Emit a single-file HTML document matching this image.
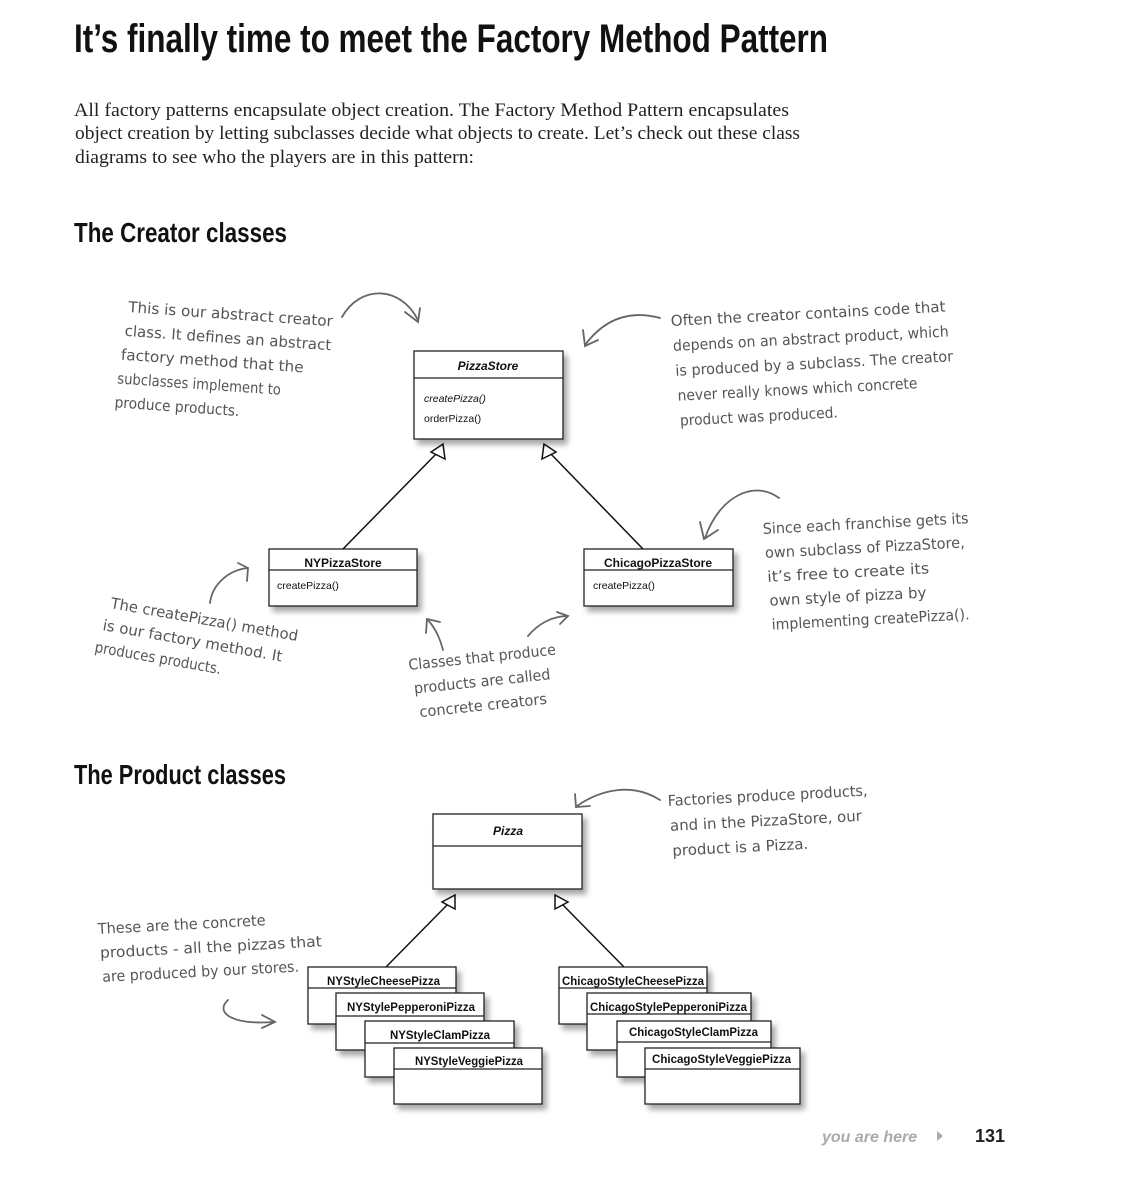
<!DOCTYPE html>
<html><head><meta charset="utf-8"><style>
html,body{margin:0;padding:0;background:#fff}
svg{display:block}
.h{font-family:"DejaVu Sans","Liberation Sans",sans-serif;fill:#555;font-size:15px}
.u{font-family:"Liberation Sans",sans-serif;fill:#111}
</style></head><body>
<svg width="1129" height="1194" viewBox="0 0 1129 1194" xmlns="http://www.w3.org/2000/svg">
<defs>
<filter id="sh" x="-10%" y="-10%" width="130%" height="140%"><feDropShadow dx="4" dy="5" stdDeviation="3" flood-color="#000" flood-opacity="0.35"/></filter>
</defs>
<text x="74" y="52" font-family="Liberation Sans,sans-serif" font-weight="bold" font-size="40" textLength="754" lengthAdjust="spacingAndGlyphs" fill="#111">It’s finally time to meet the Factory Method Pattern</text>
<g font-family="Liberation Serif,serif" font-size="18.5" fill="#222">
<text x="74" y="116" textLength="715" lengthAdjust="spacingAndGlyphs">All factory patterns encapsulate object creation.  The Factory Method Pattern encapsulates</text>
<text x="75" y="139" textLength="725" lengthAdjust="spacingAndGlyphs">object creation by letting subclasses decide what objects to create.  Let’s check out these class</text>
<text x="75" y="163" textLength="399" lengthAdjust="spacingAndGlyphs">diagrams to see who the players are in this pattern:</text>
</g>
<text x="74" y="242" font-family="Liberation Sans,sans-serif" font-weight="bold" font-size="28" textLength="213" lengthAdjust="spacingAndGlyphs" fill="#111">The Creator classes</text>
<text x="74" y="784" font-family="Liberation Sans,sans-serif" font-weight="bold" font-size="28" textLength="212" lengthAdjust="spacingAndGlyphs" fill="#111">The Product classes</text>

<g stroke="#111" stroke-width="1.5" fill="#fff">
<line x1="343" y1="549" x2="438" y2="452"/>
<line x1="643" y1="549" x2="549" y2="452"/>
<polygon points="443,444 445,459 431,452"/>
<polygon points="544,444 542,459 556,452"/>
<line x1="386" y1="967" x2="450" y2="902"/>
<line x1="624" y1="967" x2="560" y2="902"/>
<polygon points="455,895 455,909 442,902"/>
<polygon points="555,895 555,909 568,902"/>
</g>

<g stroke="#222" stroke-width="1.3" fill="#fff" filter="url(#sh)">
<rect x="414" y="351" width="149" height="88"/>
<rect x="269" y="549" width="148" height="57"/>
<rect x="584" y="549" width="149" height="57"/>
<rect x="433" y="814" width="149" height="75"/>
<rect x="308" y="967" width="148" height="57"/>
<rect x="336" y="993" width="148" height="57"/>
<rect x="365" y="1021" width="149" height="56"/>
<rect x="394" y="1048" width="148" height="56"/>
<rect x="559" y="967" width="148" height="57"/>
<rect x="587" y="993" width="164" height="57"/>
<rect x="617" y="1021" width="154" height="56"/>
<rect x="645" y="1048" width="155" height="56"/>
</g>
<g stroke="#222" stroke-width="1.2">
<line x1="414" y1="378" x2="563" y2="378"/>
<line x1="269" y1="570" x2="417" y2="570"/>
<line x1="584" y1="570" x2="733" y2="570"/>
<line x1="433" y1="846" x2="582" y2="846"/>
<line x1="308" y1="988" x2="456" y2="988"/>
<line x1="336" y1="1016" x2="484" y2="1016"/>
<line x1="365" y1="1043" x2="514" y2="1043"/>
<line x1="394" y1="1069" x2="542" y2="1069"/>
<line x1="559" y1="988" x2="707" y2="988"/>
<line x1="587" y1="1014" x2="751" y2="1014"/>
<line x1="617" y1="1042" x2="771" y2="1042"/>
<line x1="645" y1="1069" x2="800" y2="1069"/>
</g>
<g class="u" font-size="12">
<text x="488" y="370" text-anchor="middle" font-weight="bold" font-style="italic">PizzaStore</text>
<text x="424" y="402" font-size="10.5" font-style="italic">createPizza()</text>
<text x="424" y="422" font-size="10.5">orderPizza()</text>
<text x="343" y="567" text-anchor="middle" font-weight="bold">NYPizzaStore</text>
<text x="277" y="589" font-size="10.5">createPizza()</text>
<text x="658" y="567" text-anchor="middle" font-weight="bold">ChicagoPizzaStore</text>
<text x="593" y="589" font-size="10.5">createPizza()</text>
<text x="508" y="835" text-anchor="middle" font-weight="bold" font-style="italic">Pizza</text>
<text x="327" y="985" font-weight="bold" textLength="113" lengthAdjust="spacingAndGlyphs">NYStyleCheesePizza</text>
<text x="347" y="1011" font-weight="bold" textLength="128" lengthAdjust="spacingAndGlyphs">NYStylePepperoniPizza</text>
<text x="390" y="1039" font-weight="bold" textLength="100" lengthAdjust="spacingAndGlyphs">NYStyleClamPizza</text>
<text x="415" y="1065" font-weight="bold" textLength="108" lengthAdjust="spacingAndGlyphs">NYStyleVeggiePizza</text>
<text x="562" y="985" font-weight="bold" textLength="142" lengthAdjust="spacingAndGlyphs">ChicagoStyleCheesePizza</text>
<text x="590" y="1011" font-weight="bold" textLength="157" lengthAdjust="spacingAndGlyphs">ChicagoStylePepperoniPizza</text>
<text x="629" y="1036" font-weight="bold" textLength="129" lengthAdjust="spacingAndGlyphs">ChicagoStyleClamPizza</text>
<text x="652" y="1063" font-weight="bold" textLength="139" lengthAdjust="spacingAndGlyphs">ChicagoStyleVeggiePizza</text>
</g>

<g class="h">
<g transform="rotate(4 128 312)">
<text x="128" y="312" textLength="205" lengthAdjust="spacingAndGlyphs">This is our abstract creator</text>
<text x="126" y="336" textLength="207" lengthAdjust="spacingAndGlyphs">class.  It defines an abstract</text>
<text x="124" y="360" textLength="183" lengthAdjust="spacingAndGlyphs">factory method that the</text>
<text x="122" y="384" textLength="164" lengthAdjust="spacingAndGlyphs">subclasses implement to</text>
<text x="121" y="408" textLength="125" lengthAdjust="spacingAndGlyphs">produce products.</text>
</g>
<g transform="rotate(-3 671 326)">
<text x="671" y="326" textLength="275" lengthAdjust="spacingAndGlyphs">Often the creator contains code that</text>
<text x="672" y="351" textLength="276" lengthAdjust="spacingAndGlyphs">depends on an abstract product, which</text>
<text x="673" y="376" textLength="278" lengthAdjust="spacingAndGlyphs">is produced by a subclass.  The creator</text>
<text x="674" y="401" textLength="240" lengthAdjust="spacingAndGlyphs">never really knows which concrete</text>
<text x="675" y="426" textLength="158" lengthAdjust="spacingAndGlyphs">product was produced.</text>
</g>
<g transform="rotate(-3 763 534)">
<text x="763" y="534" textLength="206" lengthAdjust="spacingAndGlyphs">Since each franchise gets its</text>
<text x="764" y="558" textLength="200" lengthAdjust="spacingAndGlyphs">own subclass of PizzaStore,</text>
<text x="765" y="582" textLength="162" lengthAdjust="spacingAndGlyphs">it’s free to create its</text>
<text x="766" y="606" textLength="157" lengthAdjust="spacingAndGlyphs">own style of pizza by</text>
<text x="767" y="630" textLength="198" lengthAdjust="spacingAndGlyphs">implementing createPizza().</text>
</g>
<g transform="rotate(10 110 608)">
<text x="110" y="608" textLength="190" lengthAdjust="spacingAndGlyphs">The createPizza() method</text>
<text x="106" y="631" textLength="182" lengthAdjust="spacingAndGlyphs">is our factory method.  It</text>
<text x="102" y="654" textLength="128" lengthAdjust="spacingAndGlyphs">produces products.</text>
</g>
<g transform="rotate(-6 409 670)">
<text x="409" y="670" textLength="148" lengthAdjust="spacingAndGlyphs">Classes that produce</text>
<text x="412" y="694" textLength="137" lengthAdjust="spacingAndGlyphs">products are called</text>
<text x="415" y="718" textLength="128" lengthAdjust="spacingAndGlyphs">concrete creators</text>
</g>
<g transform="rotate(-3 668 806)">
<text x="668" y="806" textLength="200" lengthAdjust="spacingAndGlyphs">Factories produce products,</text>
<text x="669" y="831" textLength="192" lengthAdjust="spacingAndGlyphs">and in the PizzaStore, our</text>
<text x="670" y="856" textLength="136" lengthAdjust="spacingAndGlyphs">product is a Pizza.</text>
</g>
<g transform="rotate(-3 98 934)">
<text x="98" y="934" textLength="168" lengthAdjust="spacingAndGlyphs">These are the concrete</text>
<text x="99" y="958" textLength="222" lengthAdjust="spacingAndGlyphs">products - all the pizzas that</text>
<text x="100" y="982" textLength="197" lengthAdjust="spacingAndGlyphs">are produced by our stores.</text>
</g>
</g>

<g stroke="#666" stroke-width="1.8" fill="none" stroke-linecap="round">
<path d="M342 317 C360 285 400 285 418 320"/><path d="M405 312 L418 322 L420 308"/>
<path d="M660 318 C630 310 605 318 585 345"/><path d="M583 330 L585 346 L598 340"/>
<path d="M779 498 C755 480 720 495 705 538"/><path d="M700 522 L704 539 L718 530"/>
<path d="M210 603 C212 585 228 570 248 568"/><path d="M238 563 L248 568 L247 581"/>
<path d="M443 650 C440 638 435 628 428 620"/><path d="M426 633 L427 619 L440 622"/>
<path d="M528 636 C538 624 552 616 568 616"/><path d="M557 612 L568 616 L560 624"/>
<path d="M660 800 C632 782 600 790 577 806"/><path d="M575 794 L576 807 L590 806"/>
<path d="M228 1000 C215 1012 230 1025 274 1022"/><path d="M262 1015 L275 1022 L262 1028"/>
</g>

<text x="822" y="1142" font-family="Liberation Sans,sans-serif" font-style="italic" font-weight="bold" font-size="16" fill="#aaa">you are here</text>
<polygon points="937,1131 943,1136 937,1141" fill="#aaa"/>
<text x="975" y="1142" font-family="Liberation Sans,sans-serif" font-weight="bold" font-size="18" fill="#222">131</text>
</svg>
</body></html>
